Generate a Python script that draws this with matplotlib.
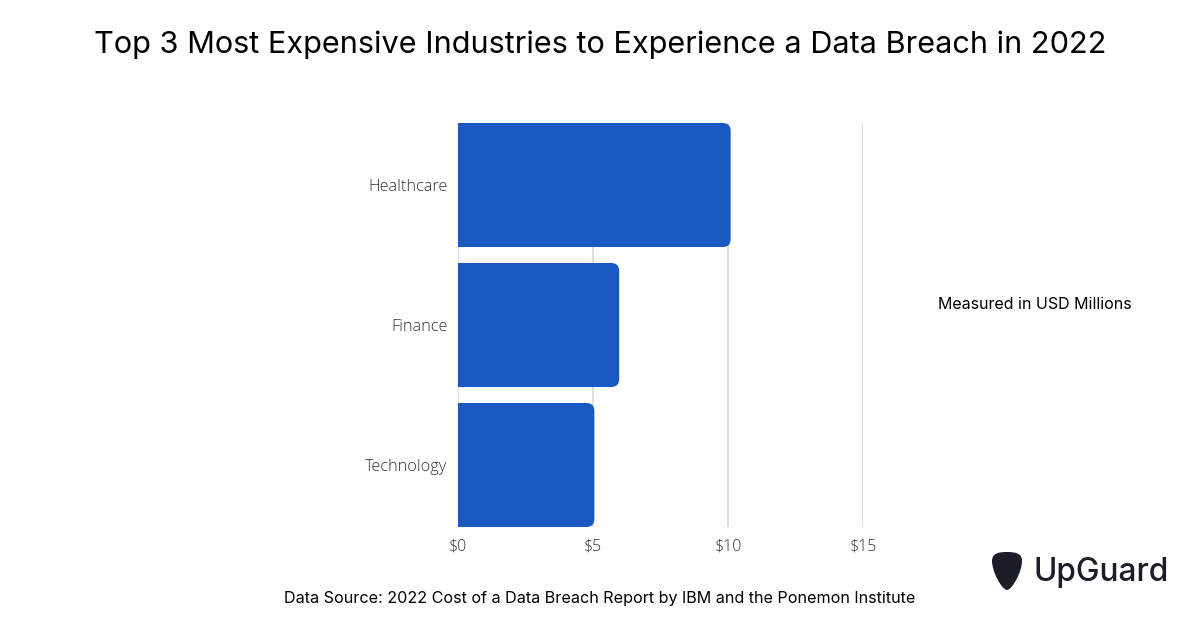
import matplotlib.pyplot as plt
from matplotlib.patches import FancyBboxPatch, PathPatch
from matplotlib.path import Path

industries = ['Healthcare', 'Finance', 'Technology']
cost_musd = [10.10, 5.97, 5.05]
xticks = [0, 5, 10, 15]
xtick_labels = ['$0', '$5', '$10', '$15']

bar_color = '#1a59c1'
grid_color = '#d9d9d9'

fig = plt.figure(figsize=(12, 6.28), dpi=100)
# axes in pixel terms: x 458..863, y 123..527 (from top)
ax = fig.add_axes([458 / 1200, 1 - 527 / 628, 405 / 1200, 404 / 628])

bars = ax.barh(range(len(industries)), cost_musd, height=0.886, color=bar_color)
ax.set_xlim(0, 15)
ax.set_ylim(2.443, -0.443)

# swap plain bars for ones with rounded right corners
px_x = 405 / 15
px_y = 404 / 2.886
r = 8
for b in bars:
    x0, y0, w, h = b.get_x(), b.get_y(), b.get_width(), b.get_height()
    b.remove()
    p = FancyBboxPatch((x0 - 1, y0), w + 1, h,
                       boxstyle=f'round,pad=0,rounding_size={r / px_x}',
                       mutation_aspect=(r / px_y) / (r / px_x),
                       facecolor=bar_color, edgecolor='none', zorder=3)
    p.set_clip_path(ax.patch)
    ax.add_patch(p)

ax.set_xticks(xticks)
ax.set_xticklabels(xtick_labels, fontfamily='Open Sans', fontweight='light',
                   fontsize=11.5, color='#333333')
ax.set_yticks(range(len(industries)))
ax.set_yticklabels(industries, fontfamily='Open Sans', fontweight='light',
                   fontsize=11.7, color='#333333')
ax.tick_params(length=0)
ax.tick_params(axis='x', pad=8)
ax.tick_params(axis='y', pad=7.5)
ax.grid(axis='x', color=grid_color, linewidth=1.2, zorder=0)
ax.set_axisbelow(True)
for s in ax.spines.values():
    s.set_visible(False)

fig.text(0.5, 1 - 45 / 628, 'Top 3 Most Expensive Industries to Experience a Data Breach in 2022',
         ha='center', va='center', fontfamily='Inter', fontsize=22.1, color='#000000')
fig.text(1035 / 1200, 1 - 305 / 628, 'Measured in USD Millions',
         ha='center', va='center', fontfamily='Inter', fontsize=11.5, color='#000000')
fig.text(0.5, 1 - 598 / 628,
         'Data Source: 2022 Cost of a Data Breach Report by IBM and the Ponemon Institute',
         ha='center', va='center', fontfamily='Inter', fontsize=11.6, color='#000000')

# UpGuard logo: pick shape + wordmark
logo = '#1b1d29'
verts = [(1007, 552),
         (1015, 552), (1022, 553), (1022, 561),
         (1022, 572), (1012, 590), (1007, 590),
         (1002, 590), (992, 572), (992, 561),
         (992, 553), (999, 552), (1007, 552),
         (1007, 552)]
verts = [(x / 1200, 1 - y / 628) for x, y in verts]
codes = [Path.MOVETO] + [Path.CURVE4] * 12 + [Path.CLOSEPOLY]
fig.patches.append(PathPatch(Path(verts, codes), facecolor=logo, edgecolor='none',
                             transform=fig.transFigure, figure=fig))
fig.text(1034 / 1200, 1 - 573 / 628, 'UpGuard', ha='left', va='center',
         fontfamily='Inter', fontweight='medium', fontsize=22.8, color=logo)

fig.savefig('out.png', dpi=100, facecolor='white')
